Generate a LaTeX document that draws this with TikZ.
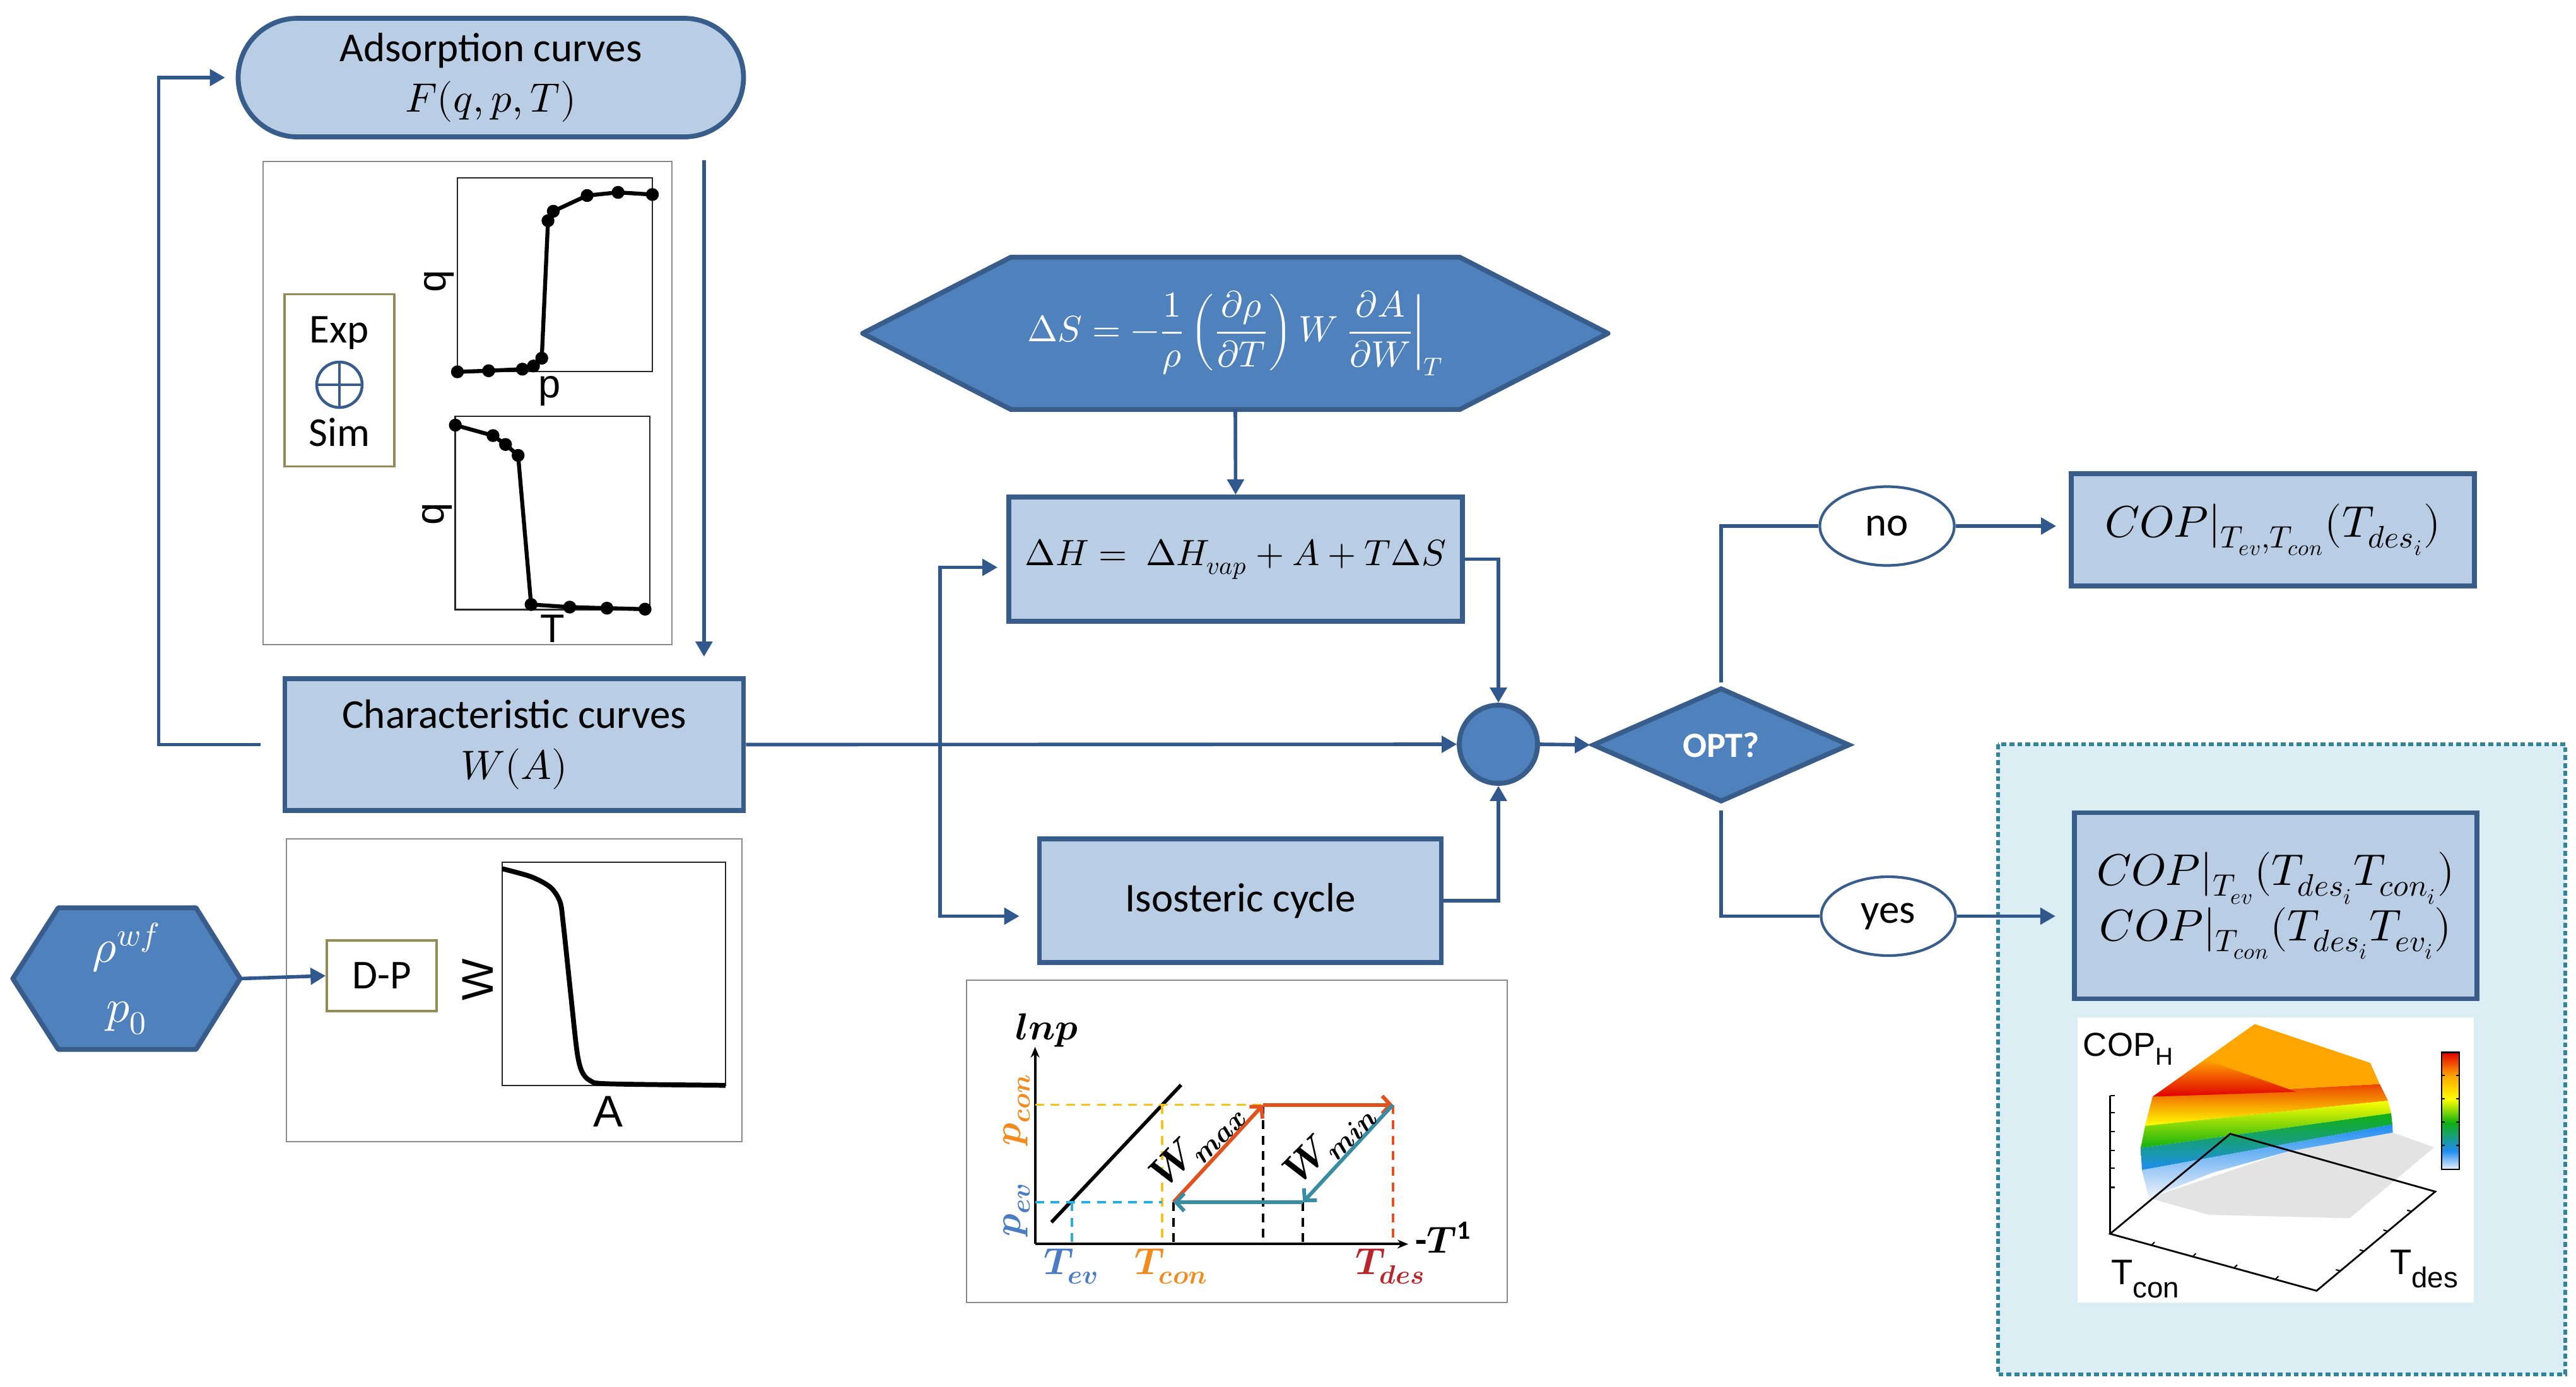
\documentclass[tikz,border=0pt]{standalone}
\usepackage{amsmath}
\usepackage{fontspec}
\usepackage{unicode-math}
\setmainfont{Carlito}
\setmathfont{Latin Modern Math}
\newfontfamily\plotfont{Liberation Sans}
\usetikzlibrary{arrows.meta, positioning, shapes.geometric, calc, backgrounds}

\definecolor{mborder}{HTML}{385D8A}
\definecolor{mline}{HTML}{30588C}
\definecolor{mfill}{HTML}{B9CDE5}
\definecolor{mdark}{HTML}{4F81BD}
\definecolor{mteal}{HTML}{31849B}
\definecolor{mregion}{HTML}{DAEEF3}
\definecolor{molive}{HTML}{948A54}
\definecolor{mframe}{HTML}{8A8A8A}
\definecolor{cyorange}{HTML}{F28A1E}
\definecolor{cyblue}{HTML}{4C7CC4}
\definecolor{cydred}{HTML}{B8262B}
\definecolor{cyred}{HTML}{E1521E}
\definecolor{cyteal}{HTML}{3A8CA4}
\definecolor{cyyellow}{HTML}{F6C21E}
\definecolor{cycyan}{HTML}{29AEE0}
\definecolor{jred}{HTML}{E00000}
\definecolor{jorange}{HTML}{FFA500}
\definecolor{jyellow}{HTML}{FFFF00}
\definecolor{jgreen}{HTML}{10B010}
\definecolor{jblue}{HTML}{1E8CF0}
\definecolor{jwhite}{HTML}{EEF2FA}

\pgfdeclareverticalshading{jetband}{100bp}{color(0bp)=(jwhite); color(25bp)=(jwhite);
  color(33bp)=(jblue); color(45bp)=(jgreen); color(55bp)=(jyellow); color(65bp)=(jorange);
  color(75bp)=(jred); color(100bp)=(jred)}

\newcommand{\txtsize}{\fontsize{18.5}{23}\selectfont}
\newcommand{\eqsize}{\fontsize{20}{25}\selectfont}

\tikzset{
  lbox/.style={draw=mborder, fill=mfill, line width=2.2pt, font=\txtsize,
               align=center, inner sep=0pt},
  cbox/.style={lbox, rounded corners=0.94cm},
  srcbox/.style={draw=molive, fill=white, line width=1pt, font=\txtsize,
                 align=center, inner sep=0pt},
  hexnode/.style={text=white, align=center, inner sep=0pt},
  hexfill/.style={draw=mborder, fill=mdark, line width=2.2pt, line join=round},
  dcircle/.style={circle, draw=mborder, fill=mdark, line width=2.2pt, inner sep=0pt},
  ddiam/.style={diamond, aspect=2.25, draw=mborder, fill=mdark, line width=2.2pt,
                text=white, font=\fontsize{16}{16}\selectfont\bfseries, inner sep=0pt},
  tag/.style={ellipse, draw=mborder, fill=white, line width=1.2pt, font=\txtsize,
              inner sep=0pt},
  conn/.style={draw=mline, line width=1.6pt, -{Triangle[length=0.24cm, width=0.26cm]}},
  lnk/.style={draw=mline, line width=1.6pt},
  imgframe/.style={draw=mframe, line width=0.6pt, fill=white},
  optregion/.style={draw=mteal, fill=mregion, line width=1.6pt,
                    dash pattern=on 2.2pt off 1.4pt},
  axisframe/.style={draw=black!85, line width=0.8pt},
  datacurve/.style={draw=black, line width=1.8pt, line join=round},
  plotlbl/.style={font=\plotfont\fontsize{18}{18}\selectfont, inner sep=0pt},
  cyarrow/.style={line width=1.7pt, -{Straight Barb[length=0.13cm, width=0.28cm]}},
  cydash/.style={line width=1.1pt, dash pattern=on 4pt off 3pt},
  cylbl/.style={font=\fontsize{17}{17}\selectfont, inner sep=0pt},
  surflbl/.style={font=\plotfont\fontsize{16}{16}\selectfont, inner sep=0pt},
}

\begin{document}
\begin{tikzpicture}[x=1cm, y=-1cm]
  \useasboundingbox (0,0) rectangle (40.83,21.99);

  % region of optimum and picture frames
  \draw[optregion] (31.67,11.80) rectangle (40.66,21.79);
  \draw[imgframe] (4.17,2.56) rectangle (10.65,10.22);
  \draw[imgframe] (4.54,13.30) rectangle (11.76,18.10);
  \draw[imgframe] (15.32,15.54) rectangle (23.89,20.65);
  \fill[white] (32.93,16.13) rectangle (39.21,20.65);

  % flow chart
  \node[cbox, minimum width=8.01cm, minimum height=1.88cm] (adsorp) at (7.78,1.23)
    {Adsorption curves\\$F(q,p,T)$};
  \node[lbox, minimum width=7.27cm, minimum height=2.09cm] (char) at (8.15,11.805)
    {Characteristic curves\\$W(A)$};
  \node[hexnode, minimum width=3.59cm, minimum height=2.23cm,
        font=\fontsize{21}{27}\selectfont] (rho) at (2.005,15.515) {$\rho^{wf}$\\$p_0$};
  \node[srcbox, minimum width=1.74cm, minimum height=1.12cm] (dp) at (6.05,15.47) {D-P};
  \node[hexnode, minimum width=11.8cm, minimum height=2.4cm, font=\fontsize{16.5}{20}\selectfont]
    (dS) at (19.58,5.285)
    {$\displaystyle \Delta S = -\frac{1}{\rho}\left(\frac{\partial\rho}{\partial T}\right) W
      \left.\frac{\partial A}{\partial W}\right|_{T}$};
  \node[lbox, minimum width=7.19cm, minimum height=1.97cm, font=\fontsize{16.5}{20}\selectfont]
    (dH) at (19.585,8.865) {$\Delta H =\ \Delta H_{vap} + A + T\Delta S$};
  \node[lbox, minimum width=6.37cm, minimum height=1.96cm] (iso) at (19.66,14.28) {Isosteric cycle};
  \node[dcircle, minimum size=1.24cm] (sum) at (23.75,11.80) {};
  \node[ddiam, minimum width=4.08cm, minimum height=1.81cm] (opt) at (27.28,11.81) {OPT?};
  \node[tag, minimum width=2.13cm, minimum height=1.25cm] (no) at (29.91,8.34) {no};
  \node[tag, minimum width=2.13cm, minimum height=1.25cm] (yes) at (29.93,14.525) {yes};
  \node[lbox, minimum width=6.39cm, minimum height=1.78cm, font=\eqsize] (cop1) at (36.025,8.40)
    {$COP|_{T_{ev},T_{con}}(T_{des_i})$};
  \node[lbox, minimum width=6.385cm, minimum height=2.95cm, font=\eqsize] (cop2) at (36.07,14.36)
    {$COP|_{T_{ev}}(T_{des_i}T_{con_i})$\\$COP|_{T_{con}}(T_{des_i}T_{ev_i})$};

  \begin{scope}[on background layer]
    \draw[hexfill] (dS.west) -- ([xshift=2.35cm]dS.north west) -- ([xshift=-2.35cm]dS.north east)
      -- (dS.east) -- ([xshift=-2.35cm]dS.south east) -- ([xshift=2.35cm]dS.south west) -- cycle;
    \draw[hexfill] (rho.west) -- ([xshift=0.72cm]rho.north west) -- ([xshift=-0.70cm]rho.north east)
      -- (rho.east) -- ([xshift=-0.70cm]rho.south east) -- ([xshift=0.72cm]rho.south west) -- cycle;
  \end{scope}

  % Exp + Sim
  \node[srcbox, minimum width=1.74cm, minimum height=2.73cm] (expsim) at (5.38,6.03) {};
  \node[font=\txtsize, inner sep=0pt] (exp) at (5.38,5.28) {Exp};
  \node[circle, draw=mborder, line width=1.3pt, minimum size=0.72cm, inner sep=0pt] (oplus) at (5.38,6.10) {};
  \draw[mborder, line width=1.3pt] (oplus.north) -- (oplus.south) (oplus.west) -- (oplus.east);
  \node[font=\txtsize, inner sep=0pt] (sim) at (5.38,6.85) {Sim};

  % connectors
  \draw[conn] (rho.east) -- (dp.west);
  \draw[conn, shorten <=0.35cm, shorten >=0.17cm] (char.west) -- ++(-1.96,0) |- (adsorp.west);
  \draw[conn, shorten <=0.33cm, shorten >=0.31cm] ([xshift=-0.665cm]adsorp.south east)
    -- ([xshift=-0.665cm]adsorp.south east |- char.north);
  \draw[conn] (char.east) -- (sum.west);
  \coordinate (split) at (14.90,11.80);
  \draw[conn, shorten >=0.14cm] (split) |- ([yshift=-0.13cm]dH.west);
  \draw[conn, shorten >=0.28cm] (split) |- ([yshift=-0.245cm]iso.west);
  \draw[conn] (dS.south) -- (dH.north);
  \draw[conn] (dH.east) -| (sum.north);
  \draw[conn] (iso.east) -| (sum.south);
  \draw[conn] (sum.east) -- (opt.west);
  \draw[lnk, shorten <=0.05cm] (opt.north) |- (no.west);
  \draw[lnk, shorten <=0.1cm] (opt.south) |- (yes.west);
  \draw[conn, shorten >=0.2cm] (no.east) -- (no.east -| cop1.west);
  \draw[conn, shorten >=0.26cm] (yes.east) -- (yes.east -| cop2.west);

  % isotherm q(p) and isobar q(T)
  \draw[axisframe] (7.25,2.82) rectangle (10.34,5.89);
  \draw[datacurve, mark=*, mark size=2pt] plot coordinates {(7.25,5.895) (7.745,5.878)
    (8.28,5.853) (8.456,5.803) (8.587,5.679) (8.686,3.499) (8.77,3.349) (9.306,3.10)
    (9.796,3.05) (10.34,3.084)};
  \node[plotlbl, rotate=90] (q1) at (6.96,4.46) {q};
  \node[plotlbl] (p1) at (8.71,6.20) {p};
  \draw[axisframe] (7.217,6.60) rectangle (10.30,9.667);
  \draw[datacurve, mark=*, mark size=2pt] plot coordinates {(7.217,6.74) (7.814,6.906)
    (8.013,7.047) (8.212,7.22) (8.418,9.584) (9.03,9.625) (9.62,9.642) (10.224,9.658)};
  \node[plotlbl, rotate=90] (q2) at (6.93,8.15) {q};
  \node[plotlbl] (t2) at (8.76,9.97) {T};

  % characteristic curve W(A)
  \draw[axisframe] (7.96,13.67) rectangle (11.50,17.21);
  \draw[datacurve, line width=2.2pt] plot[smooth, tension=0.5] coordinates {(7.96,13.773)
    (8.418,13.90) (8.724,14.067) (8.877,14.30) (8.93,14.667) (9.05,15.8) (9.145,16.667)
    (9.22,16.98) (9.35,17.13) (9.643,17.183) (11.50,17.207)};
  \node[plotlbl, font=\plotfont\fontsize{20}{20}\selectfont, rotate=90] (wlbl) at (7.575,15.53) {W};
  \node[plotlbl, font=\plotfont\fontsize{20}{20}\selectfont] (albl) at (9.64,17.62) {A};

  % isosteric cycle diagram
  \draw[line width=1.1pt, -{Stealth[length=0.17cm, width=0.14cm]}] (16.406,19.724) -- (16.406,16.597);
  \draw[line width=1.1pt, -{Stealth[length=0.17cm, width=0.14cm]}] (16.406,19.724) -- (22.32,19.724);
  \draw[line width=1.6pt] (16.665,19.378) -- (18.72,17.20);
  \draw[cydash, cyyellow] (16.406,17.515) -- (20.0,17.515);
  \draw[cydash, cyyellow] (18.416,17.515) -- (18.416,19.724);
  \draw[cydash, cycyan] (16.406,19.06) -- (18.42,19.06);
  \draw[cydash, cycyan] (16.99,19.06) -- (16.99,19.724);
  \draw[cydash, black] (18.60,19.06) -- (18.60,19.724);
  \draw[cydash, black] (20.023,17.515) -- (20.023,19.724);
  \draw[cydash, black] (20.654,19.06) -- (20.654,19.724);
  \draw[cydash, cyred] (22.078,17.515) -- (22.078,19.724);
  \draw[cyarrow, cyred] (18.60,19.06) -- (20.023,17.515);
  \draw[cyarrow, cyred] (20.023,17.515) -- (22.078,17.515);
  \draw[cyarrow, cyteal] (22.078,17.515) -- (20.654,19.06);
  \draw[cyarrow, cyteal] (20.654,19.06) -- (18.60,19.06);
  \node[cylbl] (lnp) at (16.595,16.34) {$\mathbfit{lnp}$};
  \node[cylbl] (tinv) at (22.88,19.62) {{\bfseries -}$\mathbfit{T}^{\mathbf{1}}$};
  \node[cylbl, text=cyorange, rotate=90] (pcon) at (16.12,17.59) {$\mathbfit{p}_{\mathbfit{con}}$};
  \node[cylbl, text=cyblue, rotate=90] (pev) at (16.12,19.18) {$\mathbfit{p}_{\mathbfit{ev}}$};
  \node[cylbl, text=cyblue] (tev) at (16.98,20.08) {$\mathbfit{T}_{\mathbfit{ev}}$};
  \node[cylbl, text=cyorange] (tcon) at (18.57,20.08) {$\mathbfit{T}_{\mathbfit{con}}$};
  \node[cylbl, text=cydred] (tdes) at (22.04,20.08) {$\mathbfit{T}_{\mathbfit{des}}$};
  \node[cylbl, font=\fontsize{18}{18}\selectfont, rotate=45] (wmax) at (18.98,18.14) {$\mathbfit{W}_{\mathbfit{max}}$};
  \node[cylbl, font=\fontsize{18}{18}\selectfont, rotate=45] (wmin) at (21.08,18.12) {$\mathbfit{W}_{\mathbfit{min}}$};

  % COP surface
  \fill[gray!22] (34.059,18.993) -- (35.011,19.26) -- (37.242,19.314) -- (38.581,18.19)
    -- (37.926,17.956) -- (36.26,18.257) -- cycle;
  \shade[top color=jred!60!jorange, bottom color=jyellow] (34.118,17.387) -- (37.718,17.186)
    -- (37.85,17.45) -- (34.00,17.85) -- cycle;
  \shade[top color=jyellow, bottom color=jgreen] (34.00,17.85) -- (37.85,17.45)
    -- (37.90,17.65) -- (33.93,18.20) -- cycle;
  \shade[top color=jgreen, bottom color=jblue] (33.93,18.20) -- (37.90,17.65)
    -- (37.92,17.83) -- (33.95,18.55) -- cycle;
  \shade[top color=jblue, bottom color=jwhite] (33.95,18.55) -- (37.92,17.83) -- (37.926,17.956)
    -- (36.26,18.257) -- (35.07,18.591) -- (34.059,18.993) -- cycle;
  \fill[jorange] (34.118,17.387) -- (35.737,16.236) -- (37.569,16.852) -- (37.718,17.186) -- cycle;
  \shade[top color=jorange, bottom color=jred] (34.118,17.387) -- (34.95,16.80) -- (36.4,17.31) -- cycle;
  \draw[black, line width=0.8pt] (33.446,17.367) -- (33.446,19.561);
  \draw[black, line width=0.8pt] (33.446,19.561) -- (36.718,20.464) -- (38.599,18.892)
    -- (35.350,17.976) -- cycle;
  \foreach \ty in {17.367,17.641,17.942,18.237,18.524,18.825}
    \draw[black, line width=0.6pt] (33.446,\ty) -- ++(0.07,0);
  \foreach \t in {0.2,0.4,0.6,0.8} {
    \draw[black, line width=0.6pt] ($(33.446,19.561)!\t!(36.718,20.464)$) -- ++(0.05,-0.05);
    \draw[black, line width=0.6pt] ($(36.718,20.464)!\t!(38.599,18.892)$) -- ++(-0.07,-0.02);
  }
  \shade[shading=jetband] (38.70,16.685) rectangle (38.98,18.544);
  \draw[black, line width=0.6pt] (38.70,16.685) rectangle (38.98,18.544);
  \foreach \ty in {17.05,17.42,17.79,18.16}
    \draw[black, line width=0.5pt] (38.98,\ty) -- ++(-0.05,0) (38.70,\ty) -- ++(0.05,0);
  \node[surflbl, font=\plotfont\fontsize{15}{15}\selectfont] (coph) at (33.73,16.63)
    {COP\raisebox{-4pt}{\fontsize{11}{11}\selectfont H}};
  \node[surflbl] (tconlbl) at (34.0,20.28) {T\raisebox{-6pt}{\fontsize{13}{13}\selectfont con}};
  \node[surflbl] (tdeslbl) at (38.42,20.12) {T\raisebox{-6pt}{\fontsize{13}{13}\selectfont des}};
\end{tikzpicture}
\end{document}
